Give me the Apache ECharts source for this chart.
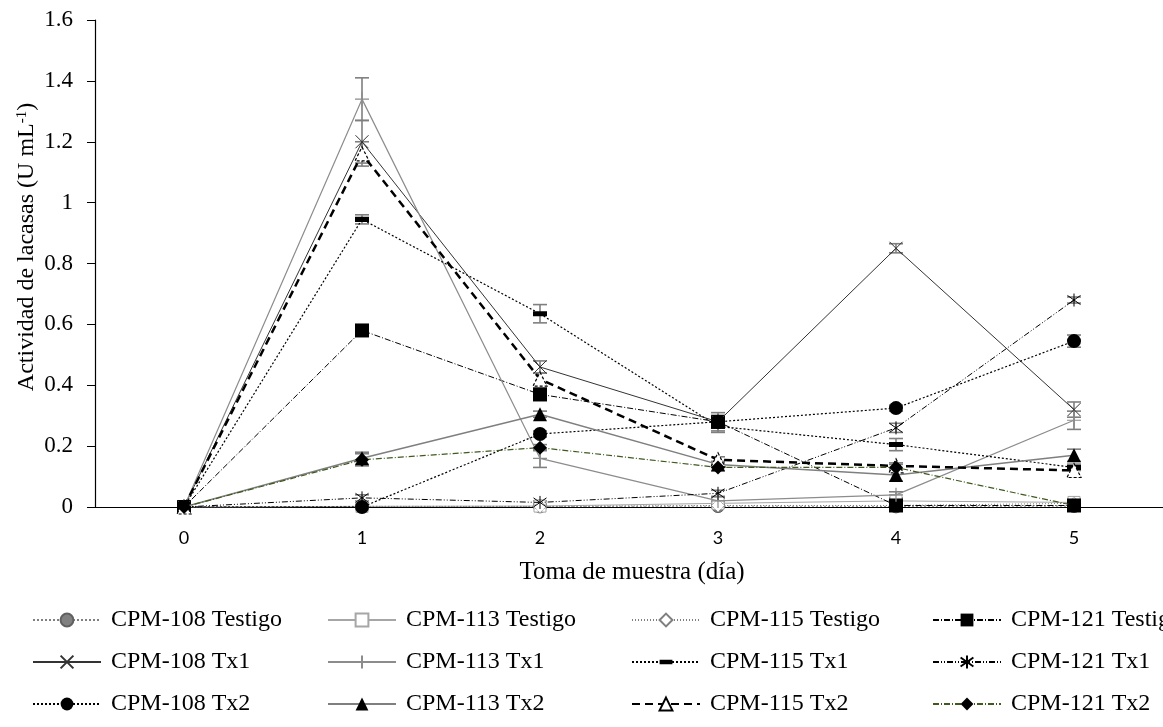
<!DOCTYPE html>
<html>
<head>
<meta charset="utf-8">
<script src="https://cdn.jsdelivr.net/npm/echarts@6/dist/echarts.min.js"></script>
<style>html,body{margin:0;padding:0;background:#fff}#c{width:1163px;height:727px}</style>
</head>
<body>
<div id="c"></div>
<script>
// ---- data ----
const categories = ['0', '1', '2', '3', '4', '5'];
const yTicks = [0, 0.2, 0.4, 0.6, 0.8, 1, 1.2, 1.4, 1.6];

const cpm108Testigo = [0, 0.002, 0.002, 0.003, 0.002, 0.003];
const cpm113Testigo = [0, 0.002, 0.003, 0.012, 0.02, 0.015];
const cpm115Testigo = [0, 0.002, 0.002, 0.005, 0.005, 0.012];
const cpm121Testigo = [0, 0.58, 0.37, 0.28, 0.005, 0.005];
const cpm108Tx1 = [0, 1.2, 0.46, 0.28, 0.85, 0.32];
const cpm113Tx1 = [0, 1.34, 0.16, 0.02, 0.04, 0.285];
const cpm115Tx1 = [0, 0.945, 0.635, 0.265, 0.205, 0.13];
const cpm121Tx1 = [0, 0.03, 0.015, 0.045, 0.26, 0.68];
const cpm108Tx2 = [0, 0, 0.24, 0.28, 0.325, 0.545];
const cpm113Tx2 = [0, 0.16, 0.305, 0.14, 0.105, 0.17];
const cpm115Tx2 = [0, 1.16, 0.42, 0.155, 0.135, 0.12];
const cpm121Tx2 = [0, 0.155, 0.195, 0.13, 0.13, 0.005];

// standard errors (± half-length of error bars)
const err108Testigo = [0, 0, 0, 0, 0, 0];
const err113Testigo = [0, 0, 0, 0.005, 0.01, 0.005];
const err115Testigo = [0, 0, 0, 0, 0, 0.005];
const err121Testigo = [0, 0.01, 0.02, 0.03, 0.01, 0.005];
const err108Tx1 = [0, 0.07, 0.02, 0.02, 0.015, 0.025];
const err113Tx1 = [0, 0.07, 0.03, 0.01, 0.01, 0.03];
const err115Tx1 = [0, 0.015, 0.03, 0.02, 0.02, 0.01];
const err121Tx1 = [0, 0.01, 0.005, 0.01, 0.015, 0.01];
const err108Tx2 = [0, 0, 0.01, 0.01, 0.01, 0.02];
const err113Tx2 = [0, 0.02, 0.01, 0.01, 0.02, 0.02];
const err115Tx2 = [0, 0.04, 0.02, 0.01, 0.01, 0.02];
const err121Tx2 = [0, 0.02, 0.01, 0.01, 0.01, 0.005];

const seriesNames = [
  'CPM-108 Testigo', 'CPM-113 Testigo', 'CPM-115 Testigo', 'CPM-121 Testigo',
  'CPM-108 Tx1', 'CPM-113 Tx1', 'CPM-115 Tx1', 'CPM-121 Tx1',
  'CPM-108 Tx2', 'CPM-113 Tx2', 'CPM-115 Tx2', 'CPM-121 Tx2'
];
const seriesValues = [
  cpm108Testigo, cpm113Testigo, cpm115Testigo, cpm121Testigo,
  cpm108Tx1, cpm113Tx1, cpm115Tx1, cpm121Tx1,
  cpm108Tx2, cpm113Tx2, cpm115Tx2, cpm121Tx2
];
const seriesErrors = [
  err108Testigo, err113Testigo, err115Testigo, err121Testigo,
  err108Tx1, err113Tx1, err115Tx1, err121Tx1,
  err108Tx2, err113Tx2, err115Tx2, err121Tx2
];

// ---- styles ----
const SERIF = 'Liberation Serif, Times New Roman, serif';
const pathX = 'path://M0,0 L10,10 M10,0 L0,10';
const pathPlus = 'path://M5,0 L5,10 M0,5 L10,5';
const pathStar = 'path://M5,0 L5,10 M0,1.5 L10,8.5 M10,1.5 L0,8.5';
const pathBar = 'path://M0,0 L0.01,0 L0,0.01 Z M0,10 L0.01,10 L0,9.99 Z M0,3.2 L10,3.2 L10,6.8 L0,6.8 Z';

const styles = [
  { line: { color: '#808080', width: 1, type: [2, 2] }, symbol: 'circle', size: 13, item: { color: '#808080', borderColor: '#606060', borderWidth: 1 } },
  { line: { color: '#a6a6a6', width: 1, type: 'solid' }, symbol: 'rect', size: 12, item: { color: '#ffffff', borderColor: '#a6a6a6', borderWidth: 1 } },
  { line: { color: '#7f7f7f', width: 1, type: [1, 2] }, symbol: 'diamond', size: 13, item: { color: '#ffffff', borderColor: '#7f7f7f', borderWidth: 1, borderType: 'dotted' } },
  { line: { color: '#000000', width: 1, type: [6, 2, 1, 2] }, symbol: 'rect', size: 14, item: { color: '#000000' } },
  { line: { color: '#333333', width: 1, type: 'solid' }, symbol: pathX, size: 13, item: { color: 'transparent', borderColor: '#333333', borderWidth: 1 } },
  { line: { color: '#8c8c8c', width: 1.2, type: 'solid' }, symbol: pathPlus, size: 14, item: { color: 'transparent', borderColor: '#8c8c8c', borderWidth: 1.2 } },
  { line: { color: '#000000', width: 1.2, type: [2, 2] }, symbol: pathBar, size: 14, item: { color: '#000000' } },
  { line: { color: '#000000', width: 1, type: [6, 2, 1, 2, 1, 2] }, symbol: pathStar, size: 13, item: { color: 'transparent', borderColor: '#000000', borderWidth: 1 } },
  { line: { color: '#000000', width: 1.2, type: [2, 2] }, symbol: 'circle', size: 14, item: { color: '#000000' } },
  { line: { color: '#7f7f7f', width: 1.5, type: 'solid' }, symbol: 'triangle', size: 14, item: { color: '#000000' } },
  { line: { color: '#000000', width: 2.5, type: [8, 5] }, symbol: 'triangle', size: 14, item: { color: '#ffffff', borderColor: '#000000', borderWidth: 1.2, borderType: [3, 2] } },
  { line: { color: '#3f5a1f', width: 1.2, type: [6, 2, 1, 2] }, symbol: 'diamond', size: 14, item: { color: '#000000' } }
];

// ---- build series ----
const series = [];
const errData = [];
seriesValues.forEach((vals, i) => {
  vals.forEach((v, j) => {
    const e = seriesErrors[i][j];
    if (e > 0) errData.push([j, v, e]);
  });
});
series.push({
  type: 'custom',
  name: 'errorbars',
  silent: true,
  z: 1,
  data: errData,
  encode: { x: 0, y: 1 },
  renderItem: function (params, api) {
    const x = api.value(0), y = api.value(1), e = api.value(2);
    const hi = api.coord([x, y + e]);
    const lo = api.coord([x, y - e]);
    const hw = 7;
    const st = { stroke: '#7f7f7f', lineWidth: 1.6, fill: null };
    return {
      type: 'group',
      children: [
        { type: 'line', shape: { x1: hi[0], y1: hi[1], x2: lo[0], y2: lo[1] }, style: st },
        { type: 'line', shape: { x1: hi[0] - hw, y1: hi[1], x2: hi[0] + hw, y2: hi[1] }, style: st },
        { type: 'line', shape: { x1: lo[0] - hw, y1: lo[1], x2: lo[0] + hw, y2: lo[1] }, style: st }
      ]
    };
  }
});
seriesNames.forEach((name, i) => {
  const s = styles[i];
  series.push({
    type: 'line',
    name: name,
    data: seriesValues[i],
    symbol: s.symbol,
    symbolSize: s.size,
    showAllSymbol: true,
    lineStyle: s.line,
    itemStyle: s.item,
    z: 2 + i,
    emphasis: { disabled: true }
  });
});

// one legend per item, laid out as a 3x4 grid
const legendCols = [32, 327, 631, 932];
const legendRows = [607, 649, 691];
const legends = seriesNames.map((name, i) => ({
  orient: 'horizontal',
  left: legendCols[i % 4],
  top: legendRows[Math.floor(i / 4)],
  itemWidth: 68,
  itemHeight: 16,
  padding: 0,
  selectedMode: false,
  data: [name],
  textStyle: { fontFamily: SERIF, fontSize: 24, color: '#000', lineHeight: 26, padding: [0, 0, 0, 5] }
}));

const chart = echarts.init(document.getElementById('c'), null, { renderer: 'canvas' });
chart.setOption({
  animation: false,
  backgroundColor: '#ffffff',
  grid: { left: 95, top: 20, width: 1069, bottom: 220, containLabel: false },
  legend: legends,
  xAxis: {
    type: 'category',
    data: categories,
    boundaryGap: true,
    axisLine: { lineStyle: { color: '#000', width: 1.2 } },
    axisTick: { show: false },
    axisLabel: { fontFamily: 'Lato, Open Sans, sans-serif', fontSize: 18, color: '#000', margin: 22 },
    splitLine: { show: false }
  },
  yAxis: {
    type: 'value',
    min: yTicks[0],
    max: yTicks[yTicks.length - 1],
    interval: 0.2,
    axisLine: { show: true, lineStyle: { color: '#000', width: 1.2 } },
    axisTick: { show: true, length: 8, lineStyle: { color: '#000' } },
    axisLabel: { fontFamily: SERIF, fontSize: 23, color: '#000', margin: 22 },
    splitLine: { show: false }
  },
  graphic: [
    {
      type: 'text', x: 632, y: 572,
      style: { text: 'Toma de muestra (día)', fontFamily: SERIF, fontSize: 25, fill: '#000', align: 'center', verticalAlign: 'middle' }
    },
    {
      type: 'text', x: 27, y: 247, rotation: Math.PI / 2,
      style: {
        text: '{a|Actividad de lacasas (U mL}{s|-1}{a|)}',
        rich: {
          a: { fontFamily: SERIF, fontSize: 24, fill: '#000' },
          s: { fontFamily: SERIF, fontSize: 15, fill: '#000', verticalAlign: 'top' }
        },
        align: 'center', verticalAlign: 'middle'
      }
    }
  ],
  series: series
});
</script>
</body>
</html>
